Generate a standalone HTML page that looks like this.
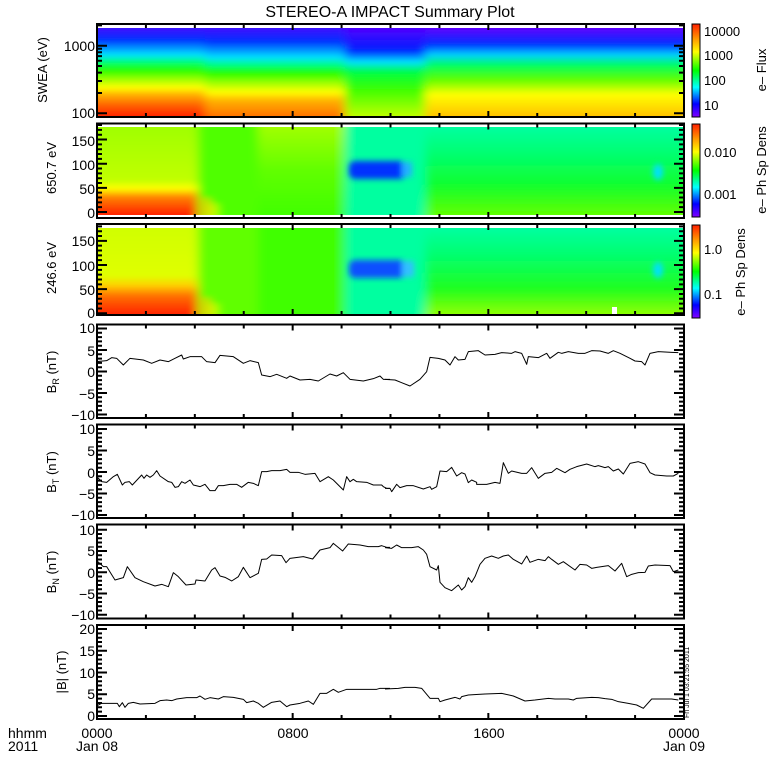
<!DOCTYPE html>
<html><head><meta charset="utf-8"><style>
html,body{margin:0;padding:0;background:#fff;width:780px;height:780px;overflow:hidden}
svg{display:block}
text{font-family:"Liberation Sans",sans-serif;fill:#000}
</style></head><body>
<svg id="s" width="780" height="780" viewBox="0 0 780 780" xmlns="http://www.w3.org/2000/svg">
<defs>
<filter id="bl" x="-5%" y="-5%" width="110%" height="110%"><feGaussianBlur stdDeviation="5 2"/></filter>
<filter id="bl2" x="-30%" y="-30%" width="160%" height="160%"><feGaussianBlur stdDeviation="3"/></filter>
<clipPath id="c1"><rect x="97" y="28" width="587" height="89"/></clipPath>
<clipPath id="c2"><rect x="97" y="127" width="587" height="88"/></clipPath>
<clipPath id="c3"><rect x="97" y="228" width="587" height="87"/></clipPath>
<linearGradient id="rb" x1="0" y1="0" x2="0" y2="1">
<stop offset="0" stop-color="#ff2000"/><stop offset="0.17" stop-color="#ffa000"/><stop offset="0.3" stop-color="#ffff00"/><stop offset="0.5" stop-color="#00ff00"/><stop offset="0.68" stop-color="#00ffff"/><stop offset="0.86" stop-color="#0000ff"/><stop offset="1" stop-color="#8000ff"/></linearGradient>
<linearGradient id="g1a" gradientUnits="userSpaceOnUse" x1="0" y1="28" x2="0" y2="117">
<stop offset="0" stop-color="#4010ff"/><stop offset="0.13" stop-color="#0030ff"/><stop offset="0.3" stop-color="#00e0ff"/><stop offset="0.38" stop-color="#00ff80"/><stop offset="0.47" stop-color="#20ff00"/><stop offset="0.58" stop-color="#a0ff00"/><stop offset="0.67" stop-color="#ffff00"/><stop offset="0.75" stop-color="#ffb000"/><stop offset="0.87" stop-color="#ff6000"/><stop offset="1" stop-color="#ff2000"/></linearGradient>
<linearGradient id="g1b" gradientUnits="userSpaceOnUse" x1="0" y1="28" x2="0" y2="117">
<stop offset="0" stop-color="#4010ff"/><stop offset="0.15" stop-color="#0030ff"/><stop offset="0.33" stop-color="#00e0ff"/><stop offset="0.42" stop-color="#00ff80"/><stop offset="0.5" stop-color="#20ff00"/><stop offset="0.62" stop-color="#a0ff00"/><stop offset="0.72" stop-color="#ffff00"/><stop offset="0.82" stop-color="#ffb000"/><stop offset="1" stop-color="#ff7000"/></linearGradient>
<linearGradient id="g1c" gradientUnits="userSpaceOnUse" x1="0" y1="28" x2="0" y2="117">
<stop offset="0" stop-color="#5000ff"/><stop offset="0.25" stop-color="#0020ff"/><stop offset="0.38" stop-color="#00e0ff"/><stop offset="0.5" stop-color="#00ff40"/><stop offset="0.7" stop-color="#40ff00"/><stop offset="1" stop-color="#c0ff00"/></linearGradient>
<linearGradient id="g1d" gradientUnits="userSpaceOnUse" x1="0" y1="28" x2="0" y2="117">
<stop offset="0" stop-color="#6000ff"/><stop offset="0.18" stop-color="#0030ff"/><stop offset="0.3" stop-color="#00d0ff"/><stop offset="0.42" stop-color="#00ff60"/><stop offset="0.58" stop-color="#60ff00"/><stop offset="0.75" stop-color="#ffff00"/><stop offset="1" stop-color="#ffc000"/></linearGradient>
<linearGradient id="g2a" gradientUnits="userSpaceOnUse" x1="0" y1="127" x2="0" y2="215">
<stop offset="0" stop-color="#a0ff00"/><stop offset="0.6" stop-color="#c0ff00"/><stop offset="0.7" stop-color="#ffff00"/><stop offset="0.8" stop-color="#ff8000"/><stop offset="1" stop-color="#ff2000"/></linearGradient>
<linearGradient id="g3a" gradientUnits="userSpaceOnUse" x1="0" y1="228" x2="0" y2="315">
<stop offset="0" stop-color="#d0ff00"/><stop offset="0.55" stop-color="#e0ff00"/><stop offset="0.66" stop-color="#ffd000"/><stop offset="0.78" stop-color="#ff7000"/><stop offset="1" stop-color="#ff2000"/></linearGradient>
<linearGradient id="g2d" gradientUnits="userSpaceOnUse" x1="0" y1="127" x2="0" y2="215">
<stop offset="0" stop-color="#00ffa0"/><stop offset="0.3" stop-color="#00ff70"/><stop offset="0.65" stop-color="#10ff30"/><stop offset="1" stop-color="#60ff00"/></linearGradient>
<linearGradient id="g3d" gradientUnits="userSpaceOnUse" x1="0" y1="228" x2="0" y2="315">
<stop offset="0" stop-color="#00ffa0"/><stop offset="0.3" stop-color="#00ff70"/><stop offset="0.7" stop-color="#20ff20"/><stop offset="1" stop-color="#90ff00"/></linearGradient>
<linearGradient id="g2b" gradientUnits="userSpaceOnUse" x1="0" y1="127" x2="0" y2="215">
<stop offset="0" stop-color="#a0ff00"/><stop offset="0.5" stop-color="#60ff00"/><stop offset="1" stop-color="#40ff00"/></linearGradient>
</defs>

<text x="390" y="17" font-size="16" text-anchor="middle">STEREO-A IMPACT Summary Plot</text>

<!-- panel 1 -->
<g clip-path="url(#c1)"><g filter="url(#bl)">
<rect x="80" y="20" width="125" height="105" fill="url(#g1a)"/>
<rect x="205" y="20" width="140" height="105" fill="url(#g1b)"/>
<rect x="345" y="20" width="80" height="105" fill="url(#g1c)"/>
<rect x="425" y="20" width="270" height="105" fill="url(#g1d)"/>
</g></g>
<!-- panel 2 -->
<g clip-path="url(#c2)"><g filter="url(#bl)">
<rect x="80" y="120" width="118" height="100" fill="url(#g2a)"/>
<rect x="198" y="120" width="60" height="100" fill="#50ff00"/>
<rect x="258" y="120" width="87" height="100" fill="url(#g2b)"/>
<rect x="345" y="120" width="82" height="100" fill="#00ffa0"/>
<rect x="425" y="120" width="270" height="100" fill="url(#g2d)"/>
<ellipse cx="206" cy="210" rx="3" ry="14" fill="#ffc000"/>
<ellipse cx="214" cy="212" rx="2" ry="10" fill="#ffff00"/>
</g>
<g filter="url(#bl2)">
<rect x="349" y="161" width="58" height="18" rx="6" fill="#0030ff"/>
<rect x="402" y="162" width="10" height="15" fill="#20b0ff"/>
<ellipse cx="658" cy="172" rx="5" ry="8" fill="#00e0ff"/>
</g></g>
<!-- panel 3 -->
<g clip-path="url(#c3)"><g filter="url(#bl)">
<rect x="80" y="220" width="118" height="100" fill="url(#g3a)"/>
<rect x="198" y="220" width="60" height="100" fill="#60ff00"/>
<rect x="258" y="220" width="87" height="100" fill="url(#g2b)"/>
<rect x="345" y="220" width="82" height="100" fill="#00ffa0"/>
<rect x="425" y="220" width="270" height="100" fill="url(#g3d)"/>
<ellipse cx="206" cy="310" rx="3" ry="14" fill="#ffc000"/>
<ellipse cx="214" cy="312" rx="2" ry="10" fill="#ffff00"/>
</g>
<g filter="url(#bl2)">
<rect x="349" y="260" width="58" height="18" rx="6" fill="#1050ff"/>
<rect x="402" y="261" width="12" height="16" fill="#30c0ff"/>
<ellipse cx="658" cy="270" rx="5" ry="8" fill="#00e0ff"/>
</g></g>
<rect x="612" y="307" width="5" height="8" fill="#fff"/>

<!-- colorbars -->
<rect x="692" y="24" width="8" height="93" fill="url(#rb)" stroke="#000" stroke-width="1"/>
<rect x="692" y="124" width="8" height="93" fill="url(#rb)" stroke="#000" stroke-width="1"/>
<rect x="692" y="225" width="8" height="93" fill="url(#rb)" stroke="#000" stroke-width="1"/>
<g font-size="13">
<text x="704" y="36">10000</text><text x="704" y="60">1000</text><text x="704" y="85">100</text><text x="704" y="110">10</text>
<text x="704" y="157">0.010</text><text x="704" y="199">0.001</text>
<text x="704" y="254">1.0</text><text x="704" y="299">0.1</text>
<text transform="translate(766,70) rotate(-90)" text-anchor="middle">e– Flux</text>
<text transform="translate(766,170) rotate(-90)" text-anchor="middle">e– Ph Sp Dens</text>
<text transform="translate(745,272) rotate(-90)" text-anchor="middle">e– Ph Sp Dens</text>
</g>

<!-- left labels -->
<g font-size="13">
<text transform="translate(47,70) rotate(-90)" text-anchor="middle">SWEA (eV)</text>
<text transform="translate(56,168) rotate(-90)" text-anchor="middle">650.7 eV</text>
<text transform="translate(56,268) rotate(-90)" text-anchor="middle">246.6 eV</text>
<text transform="translate(56,372) rotate(-90)" text-anchor="middle">B<tspan font-size="9" dy="3">R</tspan><tspan dy="-3"> (nT)</tspan></text>
<text transform="translate(56,472) rotate(-90)" text-anchor="middle">B<tspan font-size="9" dy="3">T</tspan><tspan dy="-3"> (nT)</tspan></text>
<text transform="translate(56,572) rotate(-90)" text-anchor="middle">B<tspan font-size="9" dy="3">N</tspan><tspan dy="-3"> (nT)</tspan></text>
<text transform="translate(66,672) rotate(-90)" text-anchor="middle">|B| (nT)</text>
</g>
<g font-size="14" text-anchor="end">
<text x="95" y="51">1000</text><text x="95" y="118">100</text>
<text x="95" y="146">150</text><text x="95" y="170">100</text><text x="95" y="194">50</text><text x="95" y="218">0</text>
<text x="95" y="246">150</text><text x="95" y="271">100</text><text x="95" y="295">50</text><text x="95" y="318">0</text>
<text x="95" y="333">10</text><text x="95" y="356">5</text><text x="95" y="377">0</text><text x="95" y="399">−5</text><text x="95" y="420">−10</text>
<text x="95" y="434">10</text><text x="95" y="456">5</text><text x="95" y="478">0</text><text x="95" y="499">−5</text><text x="95" y="520">−10</text>
<text x="95" y="535">10</text><text x="95" y="556">5</text><text x="95" y="578">0</text><text x="95" y="599">−5</text><text x="95" y="620">−10</text>
<text x="95" y="634">20</text><text x="95" y="656">15</text><text x="95" y="678">10</text><text x="95" y="699">5</text><text x="95" y="721">0</text>
</g>
<g font-size="14">
<text x="8" y="738">hhmm</text><text x="8" y="751">2011</text>
<text x="97" y="738" text-anchor="middle">0000</text><text x="97" y="751" text-anchor="middle">Jan 08</text>
<text x="293" y="738" text-anchor="middle">0800</text>
<text x="489" y="738" text-anchor="middle">1600</text>
<text x="684" y="738" text-anchor="middle">0000</text><text x="684" y="751" text-anchor="middle">Jan 09</text>
</g>
<text transform="translate(689,718) rotate(-90)" font-size="7">Fri Jul  1 03:21:55 2011</text>

<!-- data lines -->
<g fill="none" stroke="#000" stroke-width="3" stroke-linejoin="round">
<g transform="translate(90,320) scale(0.33333)">
<polyline points="20,125 50,122 65,113 80,115 100,135 120,115 160,120 185,130 210,120 235,125 255,115 275,105 280,117 300,110 335,110 350,125 375,128 390,106 430,110 460,130 480,122 505,128 515,165 540,170 560,163 590,175 600,168 630,180 660,178 685,183 720,162 740,168 760,158 780,178 820,183 850,176 870,168 880,178 900,178"/>
<polyline points="20,470 35,485 50,487 70,470 82,463 97,495 105,487 118,485 127,495 155,465 162,475 170,465 180,472 190,465 200,452 210,468 235,485 245,487 255,502 265,500 275,485 285,490 300,480 310,495 330,500 345,493 360,512 375,512 385,497 400,497 420,493 440,493 455,502 475,487 490,490 505,497 515,455 530,455 545,452 570,452 590,448 600,457 625,457 645,463 675,460 690,485 715,470 730,480 760,510 770,470 780,485 790,478 800,485 830,487 850,495 875,495 880,500 890,505 900,505"/>
<polyline points="20,722 40,740 50,740 75,780 100,773 112,740 135,773 160,785 195,798 215,793 235,800 250,758 265,770 288,795 315,792 318,780 345,783 365,750 375,743 390,768 405,772 425,783 445,770 460,742 480,773 505,760 515,718 530,717 545,705 575,707 588,728 600,715 640,710 668,717 690,690 720,683 730,670 758,693 775,672 810,675 835,680 865,680 875,677 890,682 900,682"/>
<polyline points="20,1158 35,1150 82,1150 88,1160 97,1148 105,1162 115,1150 130,1147 150,1152 195,1150 210,1142 230,1140 245,1142 260,1137 290,1133 320,1133 330,1128 345,1138 360,1133 385,1137 400,1130 430,1132 460,1138 470,1148 490,1143 505,1150 520,1162 545,1147 570,1143 590,1160 600,1155 630,1150 655,1143 670,1153 690,1120 710,1120 730,1108 745,1117 770,1108 860,1108 870,1105 900,1105"/>
</g>
<g transform="translate(385,320) scale(0.33333)">
<polyline points="0,178 30,180 50,188 75,198 105,178 125,155 135,112 160,115 180,120 195,135 210,110 220,120 240,118 250,95 280,92 300,105 330,103 350,98 380,100 390,95 410,100 425,133 430,110 460,113 485,100 495,115 520,97 530,100 550,95 580,100 600,100 620,92 645,93 670,100 685,92 705,100 735,115 750,123 770,125 780,135 795,100 820,95 860,97 880,98"/>
<polyline points="0,505 15,505 20,515 35,493 45,503 65,497 85,497 115,507 135,500 140,508 155,500 165,453 185,455 200,442 215,468 230,458 240,462 250,488 260,480 275,487 275,493 305,493 330,487 345,490 355,428 370,460 380,453 410,460 425,460 440,443 460,475 480,460 500,457 515,445 540,458 555,448 575,440 605,432 630,440 640,437 660,443 670,440 685,453 700,447 715,462 735,430 760,425 780,432 795,458 810,465 845,468 865,468 880,460"/>
<polyline points="0,683 20,685 35,675 50,683 80,683 100,680 115,690 125,703 135,740 155,750 160,737 165,787 180,803 200,812 220,795 230,810 240,800 250,773 260,787 270,770 285,733 300,715 320,708 340,715 355,708 370,705 385,718 410,732 425,708 435,727 460,718 480,722 490,710 500,718 520,733 535,725 570,750 585,733 605,735 620,745 635,742 650,740 670,737 690,753 710,730 725,770 740,763 760,758 780,757 790,738 810,735 855,737 865,755 880,750"/>
<polyline points="0,1107 40,1105 60,1102 90,1102 110,1105 135,1135 160,1135 165,1145 180,1140 210,1132 225,1137 230,1130 250,1125 280,1123 300,1122 350,1120 385,1128 420,1143 450,1140 490,1135 510,1137 550,1137 565,1140 575,1135 620,1132 640,1133 660,1136 680,1138 700,1145 730,1150 755,1155 775,1165 800,1137 860,1137 880,1140"/>
</g>
</g>

<!-- frames & ticks -->
<g id="ax" fill="none" stroke="#000" stroke-width="2"></g>
</svg>
<script>
(function(){
var ns="http://www.w3.org/2000/svg",ax=document.getElementById("ax");
var L=97,R=684,d="";
var boxes=[[24,117],[123.5,218],[224,315],[324.5,418],[424.5,518],[524.5,618.5],[625,719]];
boxes.forEach(function(b){
 d+="M"+L+","+b[0]+"H"+R+"V"+b[1]+"H"+L+"Z";
 for(var h=2;h<24;h+=2){var x=L+(R-L)*h/24;var len=(h%8==0)?6:4;
  d+="M"+x+","+b[0]+"v"+len+"M"+x+","+b[1]+"v-"+len;}
});
function yt(y,len){d+="M"+L+","+y+"h"+len+"M"+R+","+y+"h-"+len;}
[100,1000].forEach(function(v){yt(113.3-67.6*Math.log10(v/100),10)});
for(var k=2;k<=9;k++){yt(113.3-67.6*Math.log10(k),5);}
yt(45.7-67.6*Math.log10(2),5);
[[212,123.5],[313.3,224]].forEach(function(p){
 for(var v=0;v<=180;v+=10){var y=p[0]-0.483*v;if(y<p[1]+1)continue;yt(y,v%50==0?10:5);}
});
[[371.5,4.3],[472,4.3],[572.3,4.25]].forEach(function(p){
 for(var v=-10;v<=10;v++){yt(p[0]-p[1]*v,v%5==0?10:5);}
});
for(var v=0;v<=20;v++){yt(716-4.35*v,v%5==0?10:5);}
var pa=document.createElementNS(ns,"path");pa.setAttribute("d",d);ax.appendChild(pa);
})();
</script>
</body></html>
